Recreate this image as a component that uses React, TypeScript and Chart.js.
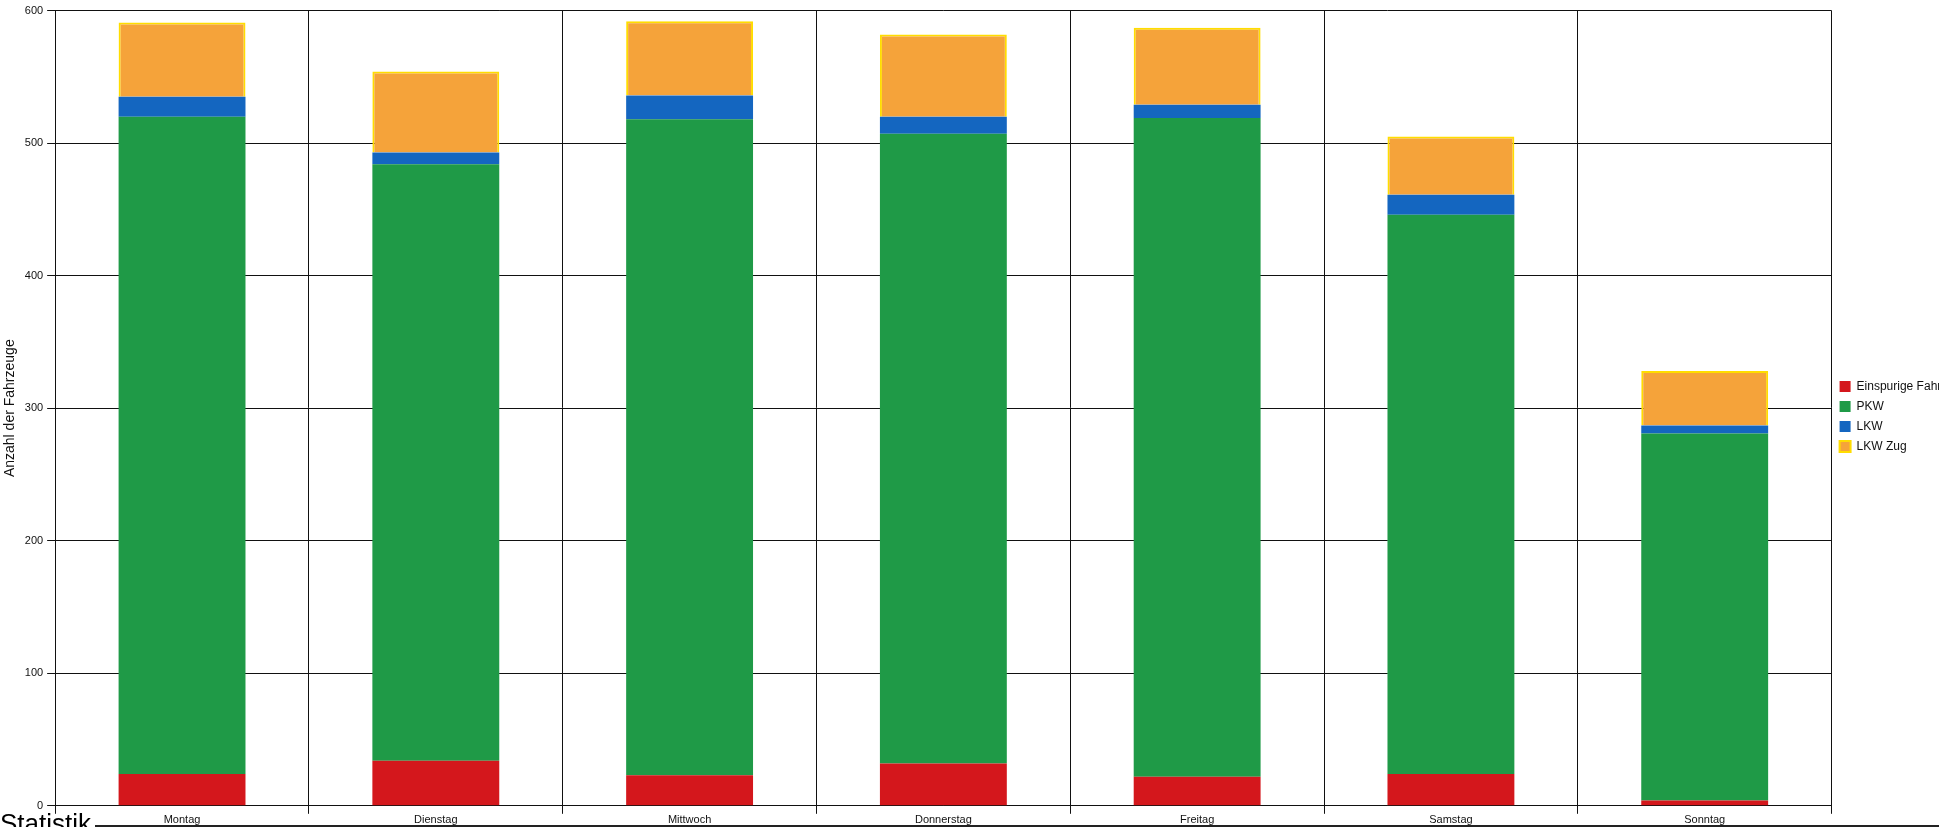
import React, { useEffect, useRef } from "react";
import { Chart, registerables } from "chart.js";

Chart.register(...registerables);

const days = ["Montag", "Dienstag", "Mittwoch", "Donnerstag", "Freitag", "Samstag", "Sonntag"];
const einspurig = [24, 34, 23, 32, 22, 24, 4];
const pkw = [496, 450, 495, 475, 497, 422, 277];
const lkw = [15, 9, 18, 13, 10, 15, 6];
const lkwZug = [56, 61, 56, 62, 58, 44, 41];

const App: React.FC = () => {
  const canvasRef = useRef<HTMLCanvasElement | null>(null);

  useEffect(() => {
    document.body.style.margin = "0";
    if (!canvasRef.current) return;
    const font = { family: "Liberation Sans, Arial", size: 11 };
    const chart = new Chart(canvasRef.current, {
      type: "bar",
      data: {
        labels: days,
        datasets: [
          { label: "Einspurige Fahrzeuge" + "\u00a0".repeat(15), data: einspurig, backgroundColor: "#d4171c" },
          { label: "PKW", data: pkw, backgroundColor: "#1f9a47" },
          { label: "LKW", data: lkw, backgroundColor: "#1466c0" },
          { label: "LKW Zug", data: lkwZug, backgroundColor: "#f5a33a", borderColor: "#ffdd00", borderWidth: 2, borderSkipped: "bottom" },
        ],
      },
      options: {
        responsive: false,
        animation: false,
        layout: { padding: { top: 6, right: -95, left: 0, bottom: 0 } },
        datasets: { bar: { categoryPercentage: 0.5, barPercentage: 1 } },
        plugins: {
          tooltip: { enabled: false },
          legend: {
            position: "right",
            labels: { boxWidth: 11, boxHeight: 11, font: { ...font, size: 12 }, color: "#111", padding: 8 },
          },
        },
        scales: {
          x: {
            stacked: true,
            grid: { color: "#111", offset: true, drawTicks: true, tickLength: 8 },
            border: { color: "#111" },
            ticks: { font, color: "#111", padding: 0 },
          },
          y: {
            stacked: true,
            min: 0,
            max: 600,
            grid: { color: "#111", tickLength: 8 },
            border: { color: "#111" },
            ticks: { stepSize: 100, font, color: "#111", padding: 4 },
            title: { display: true, text: "Anzahl der Fahrzeuge", font: { ...font, size: 14 }, color: "#111", padding: 2 },
          },
        },
      },
    });
    return () => chart.destroy();
  }, []);

  return (
    <div style={{ position: "relative", width: 1939, height: 827, overflow: "hidden", background: "#fff" }}>
      <canvas ref={canvasRef} width={1939} height={827} />
      <div style={{ position: "absolute", left: 0, top: 808, fontFamily: "Liberation Sans, Arial", fontSize: 26, lineHeight: "30px" }}>
        Statistik
      </div>
      <div style={{ position: "absolute", left: 95, right: 0, top: 825, borderTop: "2px solid #222" }} />
    </div>
  );
};

export default App;
